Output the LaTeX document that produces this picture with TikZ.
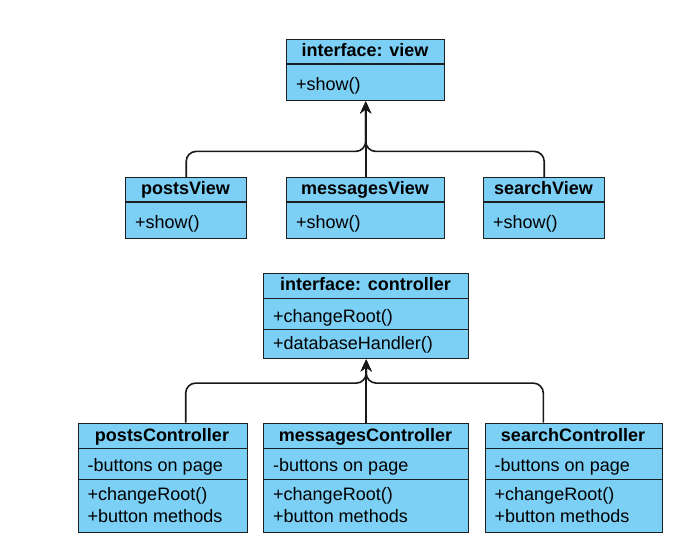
\documentclass[tikz,border=0pt]{standalone}
\usepackage{fontspec}
\setmainfont{Liberation Sans}
\usetikzlibrary{calc,arrows.meta}
\definecolor{boxblue}{RGB}{124,207,245}
\definecolor{edgegray}{RGB}{30,30,30}
\newcommand{\fsz}{\fontsize{18}{21}\selectfont}
\tikzset{
  umlbox/.style={draw=edgegray, line width=1.4pt, fill=boxblue, inner sep=0pt, anchor=north west},
  divline/.style={draw=edgegray, line width=1.4pt},
  ttl/.style={font=\fsz\bfseries, anchor=base, inner sep=0pt},
  itm/.style={font=\fsz, anchor=base west, inner sep=0pt},
  conn/.style={draw=black!90, line width=1.6pt, rounded corners=10pt, -{Stealth[length=12pt,width=11pt,inset=4pt]}}
}
\begin{document}
\begin{tikzpicture}[x=1pt,y=-1pt]
\useasboundingbox (0,0) rectangle (700,553);
% ---------- top: views ----------
\node[umlbox, minimum width=158pt, minimum height=61pt] (iv) at (286,39) {};
\draw[divline] ($(iv.north west)+(0,25)$) -- ($(iv.north east)+(0,25)$);
\node[ttl] (ivt) at (365,56.7) {interface: view};
\node[itm] (iva) at (296,91) {+show()};

\node[umlbox, minimum width=121pt, minimum height=61pt] (pv) at (125,177) {};
\draw[divline] ($(pv.north west)+(0,25)$) -- ($(pv.north east)+(0,25)$);
\node[ttl] (pvt) at (185.5,194.7) {postsView};
\node[itm] (pva) at (135,228.3) {+show()};

\node[umlbox, minimum width=158pt, minimum height=61pt] (mv) at (286,177) {};
\draw[divline] ($(mv.north west)+(0,25)$) -- ($(mv.north east)+(0,25)$);
\node[ttl] (mvt) at (365,194.7) {messagesView};
\node[itm] (mva) at (296,228.3) {+show()};

\node[umlbox, minimum width=121pt, minimum height=61pt] (sv) at (483,177) {};
\draw[divline] ($(sv.north west)+(0,25)$) -- ($(sv.north east)+(0,25)$);
\node[ttl] (svt) at (543.5,194.7) {searchView};
\node[itm] (sva) at (493,228.3) {+show()};

\draw[conn] (pv.north) |- ($(iv.south)+(0,50)$) -- (iv.south);
\draw[conn] (sv.north) |- ($(iv.south)+(0,50)$) -- (iv.south);
\draw[conn] (mv.north) -- (iv.south);

% ---------- bottom: controllers ----------
\node[umlbox, minimum width=205pt, minimum height=85.5pt] (ic) at (263,272.5) {};
\draw[divline] ($(ic.north west)+(0,25.8)$) -- ($(ic.north east)+(0,25.8)$);
\draw[divline] ($(ic.north west)+(0,57)$) -- ($(ic.north east)+(0,57)$);
\node[ttl] (ict) at (365.5,290.7) {interface: controller};
\node[itm] (ica) at (273,322.3) {+changeRoot()};
\node[itm] (icb) at (273,349.3) {+databaseHandler()};

\node[umlbox, minimum width=169pt, minimum height=109.5pt] (pc) at (77.5,422.5) {};
\draw[divline] ($(pc.north west)+(0,25.8)$) -- ($(pc.north east)+(0,25.8)$);
\draw[divline] ($(pc.north west)+(0,57)$) -- ($(pc.north east)+(0,57)$);
\node[ttl] (pct) at (162,441) {postsController};
\node[itm] (pca) at (87.5,471.5) {-buttons on page};
\node[itm] (pcb) at (87.5,500) {+changeRoot()};
\node[itm] (pcc) at (87.5,522.3) {+button methods};

\node[umlbox, minimum width=205pt, minimum height=109.5pt] (mc) at (263,422.5) {};
\draw[divline] ($(mc.north west)+(0,25.8)$) -- ($(mc.north east)+(0,25.8)$);
\draw[divline] ($(mc.north west)+(0,57)$) -- ($(mc.north east)+(0,57)$);
\node[ttl] (mct) at (365.5,441) {messagesController};
\node[itm] (mca) at (273,471.5) {-buttons on page};
\node[itm] (mcb) at (273,500) {+changeRoot()};
\node[itm] (mcc) at (273,522.3) {+button methods};

\node[umlbox, minimum width=177pt, minimum height=109.5pt] (sc) at (484.5,422.5) {};
\draw[divline] ($(sc.north west)+(0,25.8)$) -- ($(sc.north east)+(0,25.8)$);
\draw[divline] ($(sc.north west)+(0,57)$) -- ($(sc.north east)+(0,57)$);
\node[ttl] (sct) at (573,441) {searchController};
\node[itm] (sca) at (494.5,471.5) {-buttons on page};
\node[itm] (scb) at (494.5,500) {+changeRoot()};
\node[itm] (scc) at (494.5,522.3) {+button methods};

\coordinate (pcup) at ($(pc.north west)+(108.2,0)$);
\coordinate (scup) at ($(sc.north west)+(58.8,0)$);
\draw[conn] (pcup) |- ($(ic.south)+(0,23.7)$) -- (ic.south);
\draw[conn] (scup) |- ($(ic.south)+(0,23.7)$) -- (ic.south);
\draw[conn] (mc.north) -- (ic.south);
\end{tikzpicture}
\end{document}
